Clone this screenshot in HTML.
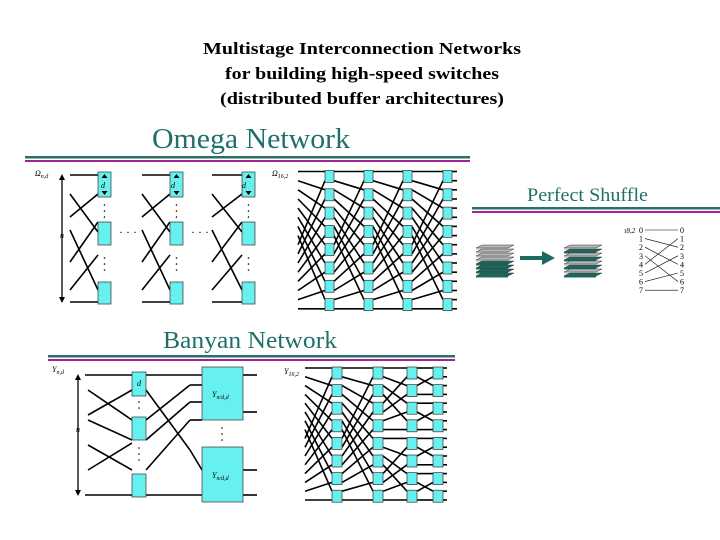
<!DOCTYPE html>
<html><head><meta charset="utf-8"><style>
body{margin:0;background:#fff}
svg{display:block}
.t{font-family:"Liberation Serif",serif}
</style></head><body>
<svg id="s" width="720" height="540" xmlns="http://www.w3.org/2000/svg">
<g class="t" font-weight="bold" font-size="17" text-anchor="middle" fill="#000">
<text x="362" y="54" textLength="318" lengthAdjust="spacingAndGlyphs">Multistage Interconnection Networks</text>
<text x="362" y="79" textLength="274" lengthAdjust="spacingAndGlyphs">for building high-speed switches</text>
<text x="362" y="104" textLength="284" lengthAdjust="spacingAndGlyphs">(distributed buffer architectures)</text>
</g>
<g class="t" fill="#1f6f6a">
<text x="152" y="148" font-size="28" textLength="198" lengthAdjust="spacingAndGlyphs">Omega Network</text>
<text x="527" y="201" font-size="19" textLength="121" lengthAdjust="spacingAndGlyphs">Perfect Shuffle</text>
<text x="163" y="348" font-size="24" textLength="174" lengthAdjust="spacingAndGlyphs">Banyan Network</text>
</g>
<rect x="25" y="156" width="445" height="2.5" fill="#2a6f6a"/>
<rect x="25" y="160" width="445" height="2" fill="#a020a0"/>
<rect x="472" y="207" width="248" height="2.5" fill="#2a6f6a"/>
<rect x="472" y="211" width="248" height="2" fill="#a020a0"/>
<rect x="48" y="355" width="407" height="2.5" fill="#2a6f6a"/>
<rect x="48" y="359" width="407" height="2" fill="#a020a0"/>
<g id="g" stroke="#000" stroke-width="1.6" fill="none"></g>
<g id="b"></g>
<g class="t" font-size="8" font-style="italic">
<text x="35" y="176">Ω<tspan font-size="6" dy="2">n,d</tspan></text>
<text x="272" y="176">Ω<tspan font-size="6" dy="2">16,2</tspan></text>
<text x="60" y="238">n</text>
<text x="52" y="372">Y<tspan font-size="6" dy="2">n,d</tspan></text>
<text x="284" y="374">Y<tspan font-size="6" dy="2">16,2</tspan></text>
<text x="76" y="432">n</text>
<text x="212" y="397">Y<tspan font-size="6" dy="2">n/d,d</tspan></text>
<text x="212" y="478">Y<tspan font-size="6" dy="2">n/d,d</tspan></text>
<text x="101" y="188">d</text><text x="171" y="188">d</text><text x="242" y="188">d</text>
<text x="137" y="386">d</text>
<text x="119" y="236" font-style="normal" font-size="12">· · ·</text>
<text x="191" y="236" font-style="normal" font-size="12">· · ·</text>
</g>
</svg>
<script>
var g=document.getElementById('g'),b=document.getElementById('b'),NS='http://www.w3.org/2000/svg';
function L(x1,y1,x2,y2,w){var e=document.createElementNS(NS,'line');e.setAttribute('x1',x1);e.setAttribute('y1',y1);e.setAttribute('x2',x2);e.setAttribute('y2',y2);if(w)e.setAttribute('stroke-width',w);g.appendChild(e);}
function R(x,y,w,h,f){var e=document.createElementNS(NS,'rect');e.setAttribute('x',x);e.setAttribute('y',y);e.setAttribute('width',w);e.setAttribute('height',h);e.setAttribute('fill',f||'#66f0f0');e.setAttribute('stroke','#333');e.setAttribute('stroke-width','0.7');b.appendChild(e);}
function D(x,y1,y2){for(var y=y1;y<=y2;y+=6){var e=document.createElementNS(NS,'circle');e.setAttribute('cx',x);e.setAttribute('cy',y);e.setAttribute('r',0.8);b.appendChild(e);}}
L(62,178,62,300,1.3);
var ax=[[62,174,59,180,65,180],[62,303,59,297,65,297]];
ax.forEach(function(a){var p=document.createElementNS(NS,'polygon');p.setAttribute('points',a[0]+','+a[1]+' '+a[2]+','+a[3]+' '+a[4]+','+a[5]);b.appendChild(p);});
[[98,70],[170,142],[242,212]].forEach(function(s){var x=s[0],x0=s[1];
L(x0,175,x,175);L(x0,302,x,302);
L(x0,194,x,232);L(x0,217,x,194);L(x0,230,x,290);L(x0,262,x,222);L(x0,290,x,255);
R(x,172,13,25);R(x,222,13,23);R(x,282,13,22);D(x+6.5,205,218);D(x+6.5,258,275);
var p=document.createElementNS(NS,'polygon');p.setAttribute('points',(x+6.5)+',174 '+(x+3.5)+',178 '+(x+9.5)+',178');b.appendChild(p);
p=document.createElementNS(NS,'polygon');p.setAttribute('points',(x+6.5)+',195 '+(x+3.5)+',191 '+(x+9.5)+',191');b.appendChild(p);});
var cols=[325,364,403,443],py=function(p){return 171.5+Math.floor(p/2)*18.3+(p%2)*9.2;};
var prev=298;
cols.forEach(function(cx,si){for(var p=0;p<16;p++){
var s=((p>>1)|((p&1)<<3));L(prev,py(s),cx,py(p));}
for(var i=0;i<8;i++)R(cx,py(2*i)-1,9,12);prev=cx+9;});
for(var p=0;p<16;p++)L(prev,py(p),457,py(p));
L(78,378,78,493,1.3);
[[78,374,75,380,81,380],[78,496,75,490,81,490]].forEach(function(a){var p=document.createElementNS(NS,'polygon');p.setAttribute('points',a[0]+','+a[1]+' '+a[2]+','+a[3]+' '+a[4]+','+a[5]);b.appendChild(p);});
L(85,375,132,375);L(85,495,132,495);
L(88,390,132,420);L(88,415,132,390);L(88,445,132,470);L(88,420,132,440);L(88,470,132,443);
L(146,375,202,375);L(146,495,202,495);
L(146,390,190,450);L(146,420,190,385);L(146,440,190,402);L(146,470,190,420);
L(190,450,202,470);L(190,385,202,385);L(190,402,202,402);L(190,420,202,420);
L(243,375,257,375);L(243,412,257,412);L(243,470,257,470);L(243,495,257,495);
R(132,372,14,24);R(132,417,14,23);R(132,474,14,23);R(202,367,41,53);R(202,447,41,55);
D(139,402,412);D(139,448,465);D(222,428,440);
var bc=[332,373,407,433],by=function(p){return 368+Math.floor(p/2)*17.6+(p%2)*8.8;};
prev=305;var spans=[8,4,2,1];
bc.forEach(function(cx,si){for(var p=0;p<16;p++){var s;
if(si==0){s=((p>>1)|((p&1)<<3));}else{var k=spans[si-1];var blk=Math.floor(p/(2*k))*2*k,o=p-blk;
if(o<k){s=blk+(o>>1)+((o&1)?k:0);}else{s=blk+((o-k)>>1)+((o&1)?k:0)+Math.floor(k/2);}
if(s>=16)s=p;}
L(prev,by(s),cx,by(p));}
for(var i=0;i<8;i++)R(cx,by(2*i)-1,10,12);prev=cx+10;});
for(var p=0;p<16;p++)L(prev,by(p),447,by(p));
function stack(x,cols){for(var i=0;i<8;i++){var y=245+i*4;var p=document.createElementNS(NS,'polygon');
p.setAttribute('points',x+','+(y+3)+' '+(x+6)+','+y+' '+(x+38)+','+y+' '+(x+32)+','+(y+3));
p.setAttribute('fill',cols[i]);p.setAttribute('stroke','#333');p.setAttribute('stroke-width','0.5');b.appendChild(p);
var r=document.createElementNS(NS,'rect');r.setAttribute('x',x);r.setAttribute('y',y+3);r.setAttribute('width',32);r.setAttribute('height',1.5);r.setAttribute('fill',cols[i]);b.appendChild(r);}}
var gr='#b8b8b8',tl='#1e6a60';
stack(476,[gr,gr,gr,gr,tl,tl,tl,tl]);stack(564,[gr,tl,gr,tl,gr,tl,gr,tl]);
var ar=document.createElementNS(NS,'polygon');ar.setAttribute('points','520,256 542,256 542,251 555,258 542,265 542,260 520,260');ar.setAttribute('fill','#1e6a60');b.appendChild(ar);
var ty=function(i){return 230+i*8.6;};
for(var i=0;i<8;i++){var t1=document.createElementNS(NS,'text');t1.setAttribute('x',639);t1.setAttribute('y',ty(i)+3);t1.setAttribute('font-size','8');t1.setAttribute('font-family','Liberation Serif');t1.textContent=i;b.appendChild(t1);
var t2=t1.cloneNode(true);t2.setAttribute('x',680);b.appendChild(t2);
var d=(i<4)?i*2:(i-4)*2+1;L(645,ty(i),678,ty(d),0.6);}
var tt=document.createElementNS(NS,'text');tt.setAttribute('x',624);tt.setAttribute('y',233);tt.setAttribute('font-size','7');tt.setAttribute('font-style','italic');tt.setAttribute('font-family','Liberation Serif');tt.textContent='τ8,2';b.appendChild(tt);
</script>
</body></html>
